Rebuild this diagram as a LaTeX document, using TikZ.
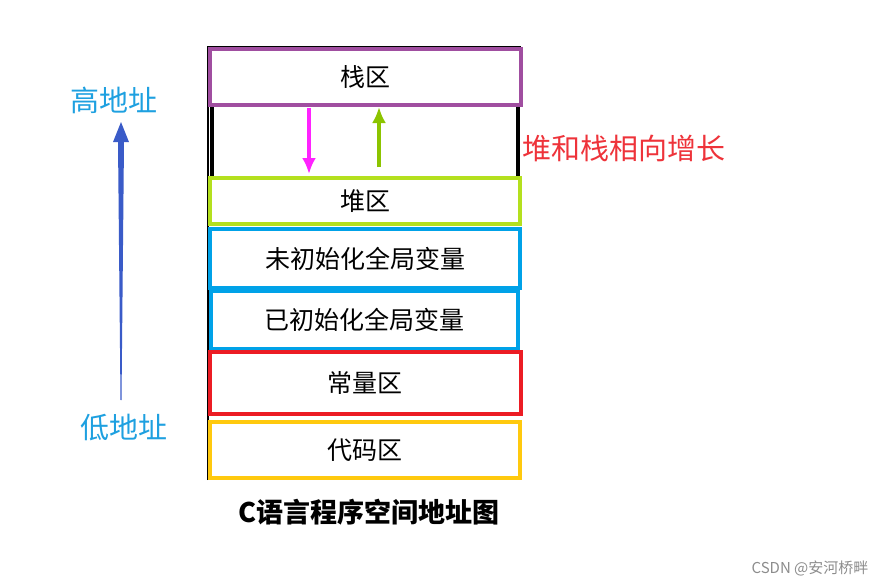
\documentclass[tikz,border=0pt]{standalone}
\usetikzlibrary{arrows.meta}
\usepackage{fontspec}
\newfontfamily\cjk{Noto Sans CJK SC}
\definecolor{purp}{HTML}{A04EA0}
\definecolor{lime}{HTML}{B4E01E}
\definecolor{sky}{HTML}{00A2E8}
\definecolor{redb}{HTML}{EC1C24}
\definecolor{gold}{HTML}{FFC90E}
\definecolor{lbl}{HTML}{1EA0E0}
\definecolor{grn}{HTML}{8CC400}
\definecolor{mag}{HTML}{FF22FF}
\definecolor{bluearr}{HTML}{3A5BC8}
\begin{document}
\begin{tikzpicture}[x=1pt,y=-1pt,
  seg/.style={draw,line width=4pt,inner sep=0pt,font=\cjk\fontsize{25}{27}\selectfont},
  lab/.style={font=\cjk\fontsize{29}{31}\selectfont}]
\useasboundingbox (0,0) rectangle (896,587);
% outer frame
\draw[line width=1.5pt] (208,480) -- (208,47) -- (521,47);
\draw[line width=4pt] (212,105) -- (212,178);
\draw[line width=4pt] (518,105) -- (518,178);
\node[seg,draw=purp,minimum width=311pt,minimum height=56pt] (stack) at (365,77) {栈区};
\node[seg,draw=lime,minimum width=310pt,minimum height=46pt] (heap) at (365,201) {堆区};
\node[seg,draw=sky,minimum width=310pt,minimum height=59pt] (bss) at (365,258.5) {未初始化全局变量};
\node[seg,draw=sky,minimum width=307pt,minimum height=58pt] (data) at (364.5,320) {已初始化全局变量};
\node[seg,draw=redb,minimum width=311pt,minimum height=62pt] (const) at (365,383) {常量区};
\node[seg,draw=gold,minimum width=310pt,minimum height=56pt] (code) at (365,450) {代码区};
% arrows
\coordinate (m1) at (309,108); \coordinate (m2) at (309,174);
\coordinate (g1) at (379,167); \coordinate (g2) at (379,107);
\draw[mag,line width=3.5pt,-{Latex[length=16pt,width=14pt]}] (m1) -- (m2);
\draw[grn,line width=3.5pt,-{Latex[length=16pt,width=14pt]}] (g1) -- (g2);
% blue arrow
\fill[bluearr] (121,122) -- (129,142) -- (124,142) -- (121.5,400) -- (120.5,400) -- (118,142) -- (113,142) -- cycle;
\node[lab,text=lbl] (hi) at (114,100) {高地址};
\node[lab,text=lbl] (lo) at (124,428) {低地址};
\node[lab,text=redb!90!white] (grow) at (624,148) {堆和栈相向增长};
\node[font=\cjk\bfseries\fontsize{27}{29}\selectfont] (cap) at (369,512) {C语言程序空间地址图};
\node[font=\cjk\fontsize{15}{17}\selectfont,text=black!45] (wm) at (810,568) {CSDN @安河桥畔};
\end{tikzpicture}
\end{document}
